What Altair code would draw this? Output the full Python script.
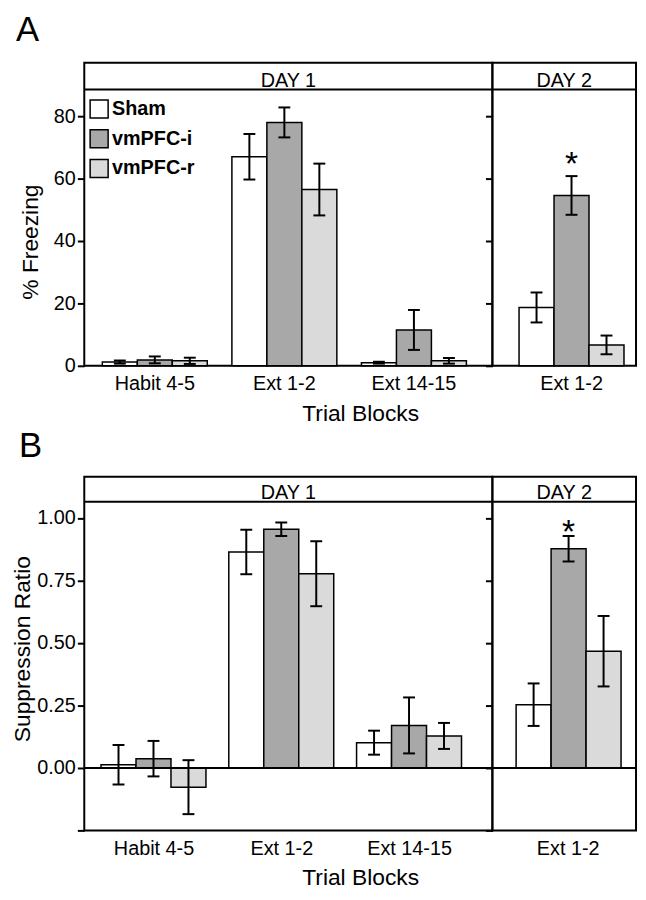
import altair as alt
import pandas as pd

FONT = "Liberation Sans"

groups = ["Sham", "vmPFC-i", "vmPFC-r"]
group_fill = ["#ffffff", "#a8a8a8", "#dadada"]
blocks_day1 = ["Habit 4-5", "Ext 1-2", "Ext 14-15"]
blocks_day2 = ["Ext 1-2"]

# ---- Panel A: % Freezing (mean, SEM) ----
frz_d1_sham = [1.2, 67.0, 1.0]
frz_d1_sham_err = [0.5, 7.3, 0.3]
frz_d1_inf = [1.9, 78.0, 11.5]
frz_d1_inf_err = [1.1, 4.8, 6.4]
frz_d1_rec = [1.6, 56.5, 1.6]
frz_d1_rec_err = [1.0, 8.3, 0.9]
frz_d2_sham = [18.7]
frz_d2_sham_err = [4.8]
frz_d2_inf = [54.6]
frz_d2_inf_err = [6.2]
frz_d2_rec = [6.7]
frz_d2_rec_err = [3.0]

# ---- Panel B: Suppression Ratio (mean, SEM) ----
sup_d1_sham = [0.013, 0.864, 0.101]
sup_d1_sham_err = [0.079, 0.089, 0.048]
sup_d1_inf = [0.037, 0.955, 0.170]
sup_d1_inf_err = [0.071, 0.027, 0.112]
sup_d1_rec = [-0.077, 0.777, 0.128]
sup_d1_rec_err = [0.108, 0.130, 0.052]
sup_d2_sham = [0.253]
sup_d2_sham_err = [0.085]
sup_d2_inf = [0.877]
sup_d2_inf_err = [0.051]
sup_d2_rec = [0.467]
sup_d2_rec_err = [0.141]

# significance marker (group) on Day 2
sig_group = "vmPFC-i"


def make_df(blocks, means, errs, sig=None):
    rows = []
    for g, m_list, e_list in zip(groups, means, errs):
        for b, m, e in zip(blocks, m_list, e_list):
            rows.append({"block": b, "group": g, "mean": m, "lo": m - e, "hi": m + e,
                         "sig": 1 if (sig is not None and g == sig) else 0})
    return pd.DataFrame(rows)


dfA1 = make_df(blocks_day1, [frz_d1_sham, frz_d1_inf, frz_d1_rec],
               [frz_d1_sham_err, frz_d1_inf_err, frz_d1_rec_err])
dfA2 = make_df(blocks_day2, [frz_d2_sham, frz_d2_inf, frz_d2_rec],
               [frz_d2_sham_err, frz_d2_inf_err, frz_d2_rec_err], sig_group)
dfB1 = make_df(blocks_day1, [sup_d1_sham, sup_d1_inf, sup_d1_rec],
               [sup_d1_sham_err, sup_d1_inf_err, sup_d1_rec_err])
dfB2 = make_df(blocks_day2, [sup_d2_sham, sup_d2_inf, sup_d2_rec],
               [sup_d2_sham_err, sup_d2_inf_err, sup_d2_rec_err], sig_group)


def panel(df, blocks, width, height, ydom, yvals, label_expr, xscale, day_label,
          header_line, header_text_y, ytitle=None, ytitle_x=0, ytitle_y=0,
          legend_y=None, legend_rowpad=4, letter=None, letter_dx=0, letter_dy=0,
          star_dy=0, xtitle_x=None, zero_line=False):
    first = ytitle is not None
    x_axis = alt.Axis(labelFontSize=20, labelFont=FONT, labelColor="black", ticks=False,
                      domain=False, labelPadding=8, labelAngle=0,
                      title="Trial Blocks" if first else None,
                      titleFontSize=23, titleFont=FONT, titleFontWeight="normal",
                      titleColor="black", titleX=xtitle_x if first else 0, titleY=55,
                      titleBaseline="alphabetic", titleAlign="center")
    x_enc = alt.X("block:N", sort=blocks, scale=alt.Scale(**xscale), axis=x_axis)
    xo = alt.XOffset("group:N", sort=groups,
                     scale=alt.Scale(domain=groups, paddingInner=0, paddingOuter=0))
    y_scale = alt.Scale(domain=ydom, nice=False, zero=False)
    if first:
        y_axis = alt.Axis(values=yvals, labelExpr=label_expr, tickSize=7, tickWidth=2,
                          tickColor="black", labelFontSize=20, labelFont=FONT,
                          labelColor="black", labelPadding=2, domain=False, grid=False,
                          title=ytitle, titleFontSize=23, titleFont=FONT,
                          titleFontWeight="normal", titleColor="black",
                          titleX=ytitle_x, titleY=ytitle_y, titleBaseline="alphabetic",
                          titleAlign="center", titleAngle=270)
    else:
        y_axis = alt.Axis(values=yvals, tickSize=7, tickWidth=2, tickColor="black",
                          labels=False, domain=False, grid=False, title=None)

    if legend_y is not None:
        legend = alt.Legend(orient="none", legendX=5, legendY=legend_y, title=None,
                            symbolType="square", symbolSize=330, symbolStrokeColor="black",
                            symbolStrokeWidth=1.5, symbolOpacity=1,
                            labelFont=FONT, labelFontSize=20, labelFontWeight="bold",
                            labelColor="black", labelOffset=3, rowPadding=legend_rowpad,
                            padding=0, symbolOffset=0)
    else:
        legend = None

    base = alt.Chart(df)
    bars = base.mark_bar(stroke="black", strokeWidth=1.5).encode(
        x=x_enc, xOffset=xo,
        y=alt.Y("mean:Q", scale=y_scale, axis=y_axis),
        y2=alt.datum(0),
        fill=alt.Fill("group:N", scale=alt.Scale(domain=groups, range=group_fill),
                      legend=legend),
    )
    err = base.mark_rule(color="black", strokeWidth=2).encode(
        x=x_enc, xOffset=xo,
        y=alt.Y("lo:Q", scale=y_scale, axis=y_axis), y2="hi:Q")
    cap_lo = base.mark_tick(color="black", thickness=2, size=12, orient="horizontal",
                            opacity=1).encode(
        x=x_enc, xOffset=xo, y=alt.Y("lo:Q", scale=y_scale, axis=y_axis))
    cap_hi = base.mark_tick(color="black", thickness=2, size=12, orient="horizontal",
                            opacity=1).encode(
        x=x_enc, xOffset=xo, y=alt.Y("hi:Q", scale=y_scale, axis=y_axis))
    hdr = pd.DataFrame({"k": [0]})
    header_rule = alt.Chart(hdr).mark_rule(color="black", strokeWidth=2).encode(
        y=alt.datum(header_line))
    header_text = alt.Chart(hdr).mark_text(text=day_label, font=FONT, fontSize=20,
                                           color="black", baseline="alphabetic",
                                           align="center").encode(
        x=alt.value(width / 2), y=alt.datum(header_text_y))
    layers = [bars, err, cap_lo, cap_hi, header_rule, header_text]
    if zero_line:
        layers.append(alt.Chart(hdr).mark_rule(color="black", strokeWidth=2).encode(
            y=alt.datum(0)))
    if df["sig"].sum() > 0:
        star = base.transform_filter("datum.sig == 1").mark_text(
            text="*", font=FONT, fontSize=34, color="black", baseline="alphabetic",
            align="center", dy=star_dy).encode(
            x=x_enc, xOffset=xo, y=alt.Y("hi:Q", scale=y_scale, axis=y_axis))
        layers.append(star)
    ch = alt.layer(*layers).properties(width=width, height=height)
    if letter is not None:
        ch = ch.properties(title=alt.TitleParams(letter, anchor="start", frame="group",
                                                 fontSize=35, font=FONT, fontWeight="normal",
                                                 color="black", dx=letter_dx, dy=letter_dy,
                                                 offset=0, baseline="alphabetic"))
    return ch


A_dom = [0, 97.14]
A_vals = [0, 20, 40, 60, 80]
B_dom = [-0.25, 1.165]
B_vals = [-0.25, 0, 0.25, 0.5, 0.75, 1.0]

a1 = panel(dfA1, blocks_day1, 412, 306, A_dom, A_vals, "datum.label",
           dict(paddingInner=0.19, paddingOuter=0.17, align=0.41),
           "DAY 1", 88.57, 89.5, ytitle="% Freezing", ytitle_x=-47, ytitle_y=180.6,
           legend_y=36.8, legend_rowpad=4, letter="A", letter_dx=-69, letter_dy=13,
           xtitle_x=278.5)
a2 = panel(dfA2, blocks_day2, 145, 306, A_dom, A_vals, None,
           dict(paddingInner=0, paddingOuter=0.184, align=0.69),
           "DAY 2", 88.57, 89.5, star_dy=-1)
b1 = panel(dfB1, blocks_day1, 412, 357, B_dom, B_vals,
           "datum.value < -0.1 ? '' : format(datum.value, '.2f')",
           dict(paddingInner=0.17, paddingOuter=0.182, align=0.36),
           "DAY 1", 1.065, 1.077, ytitle="Suppression  Ratio", ytitle_x=-55,
           ytitle_y=173.5, legend_y=32.7, legend_rowpad=5, letter="B", letter_dx=-66,
           letter_dy=15, xtitle_x=278.5, zero_line=True)
b2 = panel(dfB2, blocks_day2, 145, 357, B_dom, B_vals, None,
           dict(paddingInner=0, paddingOuter=0.19, align=0.6),
           "DAY 2", 1.065, 1.077, star_dy=7, zero_line=True)

chart = alt.concat(a1, a2, b1, b2, columns=2, spacing={"row": 112, "column": 0},
                   bounds="flush").resolve_scale(
    x="independent", y="independent", color="independent"
).resolve_axis(x="independent", y="independent").resolve_legend(
    color="independent"
).properties(
    padding={"top": 0, "left": 3, "right": 0, "bottom": 0}, background="white"
).configure_view(
    stroke="black", strokeWidth=2
)

chart.save("out.html", embed_options={"renderer": "svg", "actions": False})
